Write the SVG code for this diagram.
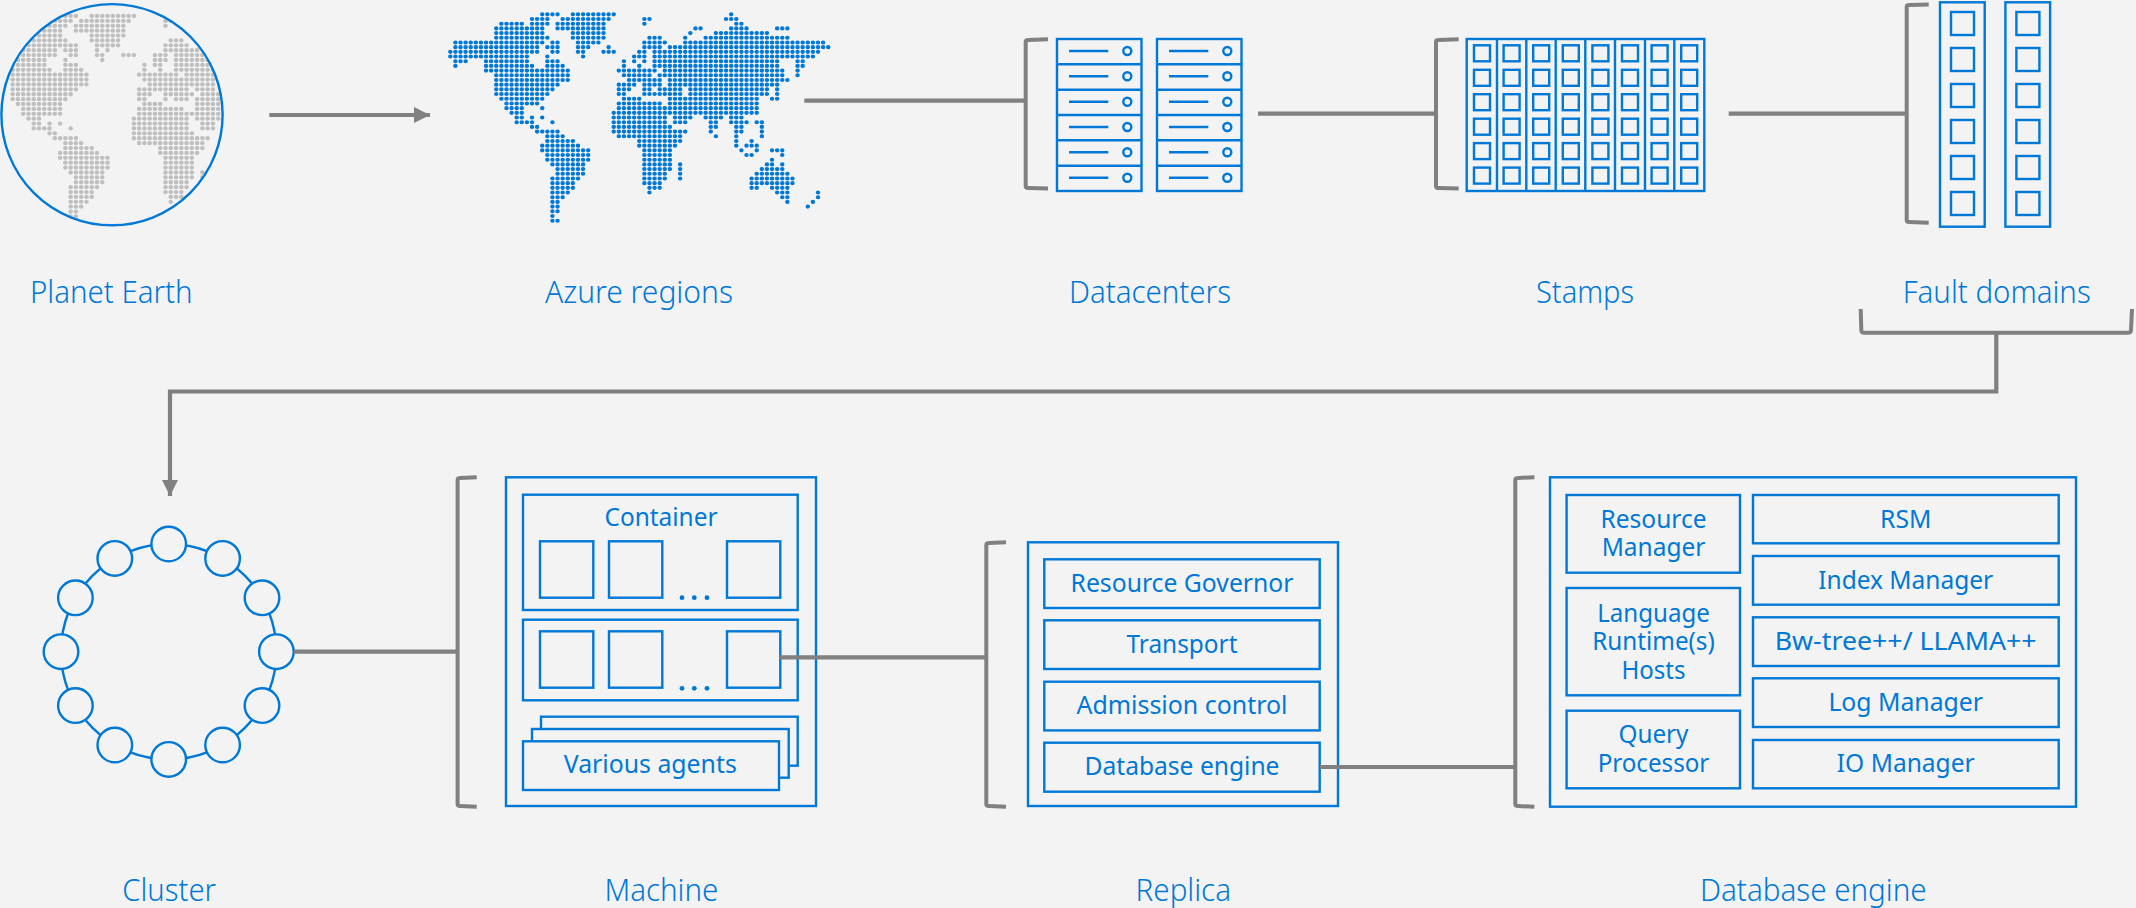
<svg xmlns="http://www.w3.org/2000/svg" xmlns:xlink="http://www.w3.org/1999/xlink" width="2136" height="908" viewBox="0 0 2136 908">
<style>
.b{fill:none;stroke:#0078d7;stroke-width:2.4}
.bf{fill:#f3f3f3;stroke:#0078d7;stroke-width:2.4}
.g{fill:none;stroke:#808080;stroke-width:4.2}
.br{fill:none;stroke:#808080;stroke-width:4;stroke-linejoin:round}
.d{fill:none;stroke-linecap:round;stroke-dasharray:0 1;stroke-width:.88}
text{font-family:"Noto Sans","Open Sans",sans-serif;font-weight:300;fill:#0078d7;text-anchor:middle}
.l{font-size:31px}
.t{font-size:24.5px;font-weight:400}
</style>
<defs>
<marker id="ah" markerUnits="userSpaceOnUse" markerWidth="16" markerHeight="16" refX="16" refY="8" orient="auto"><path d="M0 0L16 8L0 16Z" fill="#808080"/></marker>
<clipPath id="gc"><circle cx="112" cy="114.7" r="110"/></clipPath>
<g id="srv"><path class="b" d="M1069 51H1108.3"/><circle class="b" cx="1127.3" cy="51" r="4"/></g>
<g id="rack"><rect class="b" x="1057" y="39" width="84.5" height="152"/><path class="b" d="M1057 64.3H1141.5M1057 89.7H1141.5M1057 115H1141.5M1057 140.3H1141.5M1057 165.7H1141.5"/>
<use href="#srv"/><use href="#srv" y="25.3"/><use href="#srv" y="50.7"/><use href="#srv" y="76"/><use href="#srv" y="101.3"/><use href="#srv" y="126.7"/></g>
<g id="scol"><rect class="b" x="1474" y="45.3" width="16" height="16"/><rect class="b" x="1474" y="69.8" width="16" height="16"/><rect class="b" x="1474" y="94.2" width="16" height="16"/><rect class="b" x="1474" y="118.7" width="16" height="16"/><rect class="b" x="1474" y="143.1" width="16" height="16"/><rect class="b" x="1474" y="167.6" width="16" height="16"/></g>
<g id="fcol"><rect class="b" x="1940" y="2.3" width="44.7" height="224.4"/><rect class="b" x="1951" y="12" width="23" height="23"/><rect class="b" x="1951" y="48" width="23" height="23"/><rect class="b" x="1951" y="84" width="23" height="23"/><rect class="b" x="1951" y="120" width="23" height="23"/><rect class="b" x="1951" y="156" width="23" height="23"/><rect class="b" x="1951" y="192" width="23" height="23"/></g>
</defs>
<rect width="2136" height="908" fill="#f3f3f3"/>

<g id="planet-earth">
<g clip-path="url(#gc)"><path class="d" stroke="#bfbfbf" transform="translate(12.67 16) scale(5.27 4.89)" d="M10 0H12.01M15 0H23.01M7 1H11.01M13 1H22.01M29 1H30.01M6 2H10.01M12 2H21.01M29 2H29.01M5 3H9.01M12 3H21.01M4 4H9.01M15 4H21.01M3 5H10.01M15 5H20.01M30 5H32.01M2 6H9.01M10 6H12.01M16 6H20.01M29 6H33.01M2 7H8.01M10 7H12.01M16 7H16.01M18 7H18.01M29 7H35.01M1 8H8.01M11 8H12.01M16 8H17.01M21 8H23.01M27 8H29.01M31 8H36.01M1 9H6.01M10 9H10.01M17 9H17.01M27 9H29.01M31 9H37.01M0 10H6.01M10 10H12.01M25 10H25.01M27 10H28.01M31 10H37.01M0 11H7.01M10 11H13.01M25 11H25.01M28 11H28.01M31 11H38.01M0 12H14.01M24 12H31.01M33 12H38.01M0 13H14.01M25 13H38.01M0 14H14.01M26 14H38.01M0 15H12.01M24 15H25.01M26 15H33.01M35 15H38.01M0 16H11.01M24 16H26.01M29 16H34.01M36 16H39.01M0 17H10.01M24 17H25.01M29 17H29.01M31 17H33.01M35 17H39.01M1 18H9.01M25 18H28.01M35 18H39.01M2 19H9.01M24 19H28.01M29 19H32.01M35 19H39.01M2 20H9.01M24 20H39.01M3 21H5.01M23 21H33.01M35 21H39.01M4 22H5.01M7 22H7.01M9 22H9.01M23 22H33.01M36 22H38.01M4 23H6.01M7 23H7.01M11 23H11.01M23 23H33.01M36 23H38.01M7 24H8.01M23 24H34.01M8 25H12.01M23 25H37.01M10 26H13.01M24 26H36.01M10 27H15.01M28 27H36.01M9 28H16.01M28 28H35.01M9 29H18.01M29 29H34.01M10 30H18.01M29 30H34.01M10 31H18.01M29 31H34.01M11 32H17.01M29 32H34.01M36 32H36.01M12 33H17.01M29 33H34.01M36 33H36.01M12 34H17.01M29 34H33.01M11 35H16.01M29 35H33.01M11 36H15.01M29 36H32.01M11 37H15.01M30 37H32.01M11 38H14.01M30 38H30.01M11 39H13.01M11 40H12.01M11 41H12.01M11 42H12.01"/></g>
<circle class="b" cx="112" cy="114.7" r="110.6" stroke-width="2.2"/>
<text class="l" x="111.3" y="302.7" textLength="162.7" lengthAdjust="spacingAndGlyphs">Planet Earth</text>
</g>

<g id="azure-regions">
<path class="d" stroke="#0078d7" transform="translate(450.3 14.33) scale(5.107 4.69)" d="M18 0H21.01M24 0H32.01M55 0H55.01M16 1H19.01M22 1H23.01M24 1H31.01M38 1H39.01M54 1H56.01M10 2H14.01M16 2H19.01M21 2H30.01M38 2H38.01M56 2H57.01M9 3H18.01M21 3H23.01M24 3H30.01M48 3H49.01M55 3H58.01M64 3H66.01M9 4H18.01M24 4H30.01M47 4H47.01M52 4H62.01M9 5H19.01M24 5H30.01M39 5H41.01M46 5H46.01M50 5H66.01M1 6H18.01M20 6H21.01M25 6H29.01M38 6H42.01M46 6H73.01M1 7H17.01M19 7H19.01M20 7H21.01M25 7H27.01M31 7H31.01M38 7H41.01M43 7H74.01M0 8H17.01M20 8H21.01M25 8H26.01M30 8H32.01M37 8H38.01M40 8H72.01M0 9H15.01M19 9H19.01M26 9H26.01M36 9H38.01M40 9H71.01M1 10H3.01M7 10H15.01M19 10H21.01M34 10H34.01M36 10H36.01M38 10H38.01M40 10H64.01M68 10H69.01M1 11H1.01M7 11H16.01M19 11H22.01M34 11H34.01M37 11H37.01M40 11H64.01M68 11H69.01M7 12H23.01M33 12H40.01M42 12H65.01M68 12H68.01M9 13H23.01M34 13H39.01M41 13H65.01M68 13H68.01M9 14H23.01M35 14H41.01M43 14H66.01M9 15H21.01M33 15H36.01M38 15H41.01M43 15H64.01M9 16H20.01M33 16H35.01M38 16H39.01M41 16H45.01M47 16H62.01M64 16H64.01M9 17H19.01M33 17H34.01M38 17H42.01M43 17H45.01M47 17H62.01M64 17H64.01M10 18H18.01M34 18H37.01M43 18H60.01M63 18H64.01M11 19H17.01M33 19H41.01M43 19H60.01M11 20H14.01M18 20H18.01M33 20H42.01M43 20H60.01M12 21H14.01M32 21H42.01M43 21H60.01M13 22H14.01M16 22H16.01M18 22H18.01M32 22H42.01M44 22H47.01M50 22H53.01M55 22H57.01M13 23H16.01M20 23H20.01M32 23H42.01M44 23H46.01M51 23H52.01M55 23H58.01M60 23H61.01M16 24H17.01M32 24H43.01M51 24H52.01M56 24H57.01M61 24H61.01M17 25H21.01M32 25H46.01M51 25H51.01M56 25H57.01M61 25H61.01M19 26H22.01M33 26H45.01M52 26H52.01M56 26H56.01M61 26H61.01M19 27H24.01M37 27H45.01M56 27H56.01M59 27H59.01M18 28H25.01M37 28H44.01M56 28H56.01M58 28H60.01M18 29H27.01M38 29H43.01M57 29H57.01M60 29H60.01M63 29H65.01M19 30H27.01M38 30H43.01M58 30H59.01M65 30H65.01M19 31H27.01M38 31H43.01M63 31H63.01M20 32H26.01M38 32H43.01M45 32H45.01M62 32H63.01M65 32H65.01M21 33H26.01M38 33H43.01M45 33H45.01M61 33H65.01M21 34H26.01M38 34H42.01M45 34H45.01M60 34H66.01M20 35H25.01M38 35H42.01M45 35H45.01M59 35H67.01M20 36H24.01M38 36H41.01M59 36H67.01M20 37H24.01M39 37H41.01M59 37H60.01M63 37H66.01M20 38H23.01M39 38H39.01M64 38H66.01M72 38H72.01M20 39H22.01M65 39H66.01M72 39H72.01M20 40H21.01M66 40H66.01M71 40H71.01M20 41H21.01M70 41H70.01M20 42H21.01M20 43H20.01M20 44H21.01"/>
<text class="l" x="639" y="302.7" textLength="188" lengthAdjust="spacingAndGlyphs">Azure regions</text>
</g>

<g id="datacenters">
<use href="#rack"/><use href="#rack" x="100"/>
<text class="l" x="1150" y="302.7" textLength="162" lengthAdjust="spacingAndGlyphs">Datacenters</text>
</g>

<g id="stamps">
<rect class="b" x="1466.7" y="39" width="237.6" height="152"/>
<path class="b" d="M1497 39V191M1526.3 39V191M1555.7 39V191M1585.3 39V191M1615 39V191M1645 39V191M1674.3 39V191"/>
<use href="#scol"/><use href="#scol" x="29.6"/><use href="#scol" x="59.2"/><use href="#scol" x="88.8"/><use href="#scol" x="118.4"/><use href="#scol" x="148"/><use href="#scol" x="177.6"/><use href="#scol" x="207.2"/>
<text class="l" x="1585" y="302.7" textLength="98" lengthAdjust="spacingAndGlyphs">Stamps</text>
</g>

<g id="fault-domains">
<use href="#fcol"/><use href="#fcol" x="65.4"/>
<text class="l" x="1996.7" y="302.7" textLength="188" lengthAdjust="spacingAndGlyphs">Fault domains</text>
</g>

<g id="cluster">
<circle class="b" cx="168.7" cy="651.7" r="107.7"/>
<circle class="bf" cx="168.7" cy="544" r="17.3"/><circle class="bf" cx="222.6" cy="558.4" r="17.3"/><circle class="bf" cx="262" cy="597.8" r="17.3"/><circle class="bf" cx="276.4" cy="651.7" r="17.3"/><circle class="bf" cx="262" cy="705.6" r="17.3"/><circle class="bf" cx="222.6" cy="745" r="17.3"/><circle class="bf" cx="168.7" cy="759.4" r="17.3"/><circle class="bf" cx="114.8" cy="745" r="17.3"/><circle class="bf" cx="75.4" cy="705.6" r="17.3"/><circle class="bf" cx="61" cy="651.7" r="17.3"/><circle class="bf" cx="75.4" cy="597.8" r="17.3"/><circle class="bf" cx="114.8" cy="558.4" r="17.3"/>
<text class="l" x="169.2" y="901.3" textLength="93.7" lengthAdjust="spacingAndGlyphs">Cluster</text>
</g>

<g id="machine">
<rect class="b" x="506" y="477.3" width="310" height="328.7"/>
<rect class="b" x="523" y="494.7" width="274.7" height="115.3"/>
<rect class="b" x="540" y="541.3" width="53.3" height="56.4"/><rect class="b" x="609" y="541.3" width="53.3" height="56.4"/><rect class="b" x="727" y="541.3" width="53.3" height="56.4"/>
<circle cx="682" cy="597.7" r="2.4" fill="#0078d7"/><circle cx="694.3" cy="597.7" r="2.4" fill="#0078d7"/><circle cx="707" cy="597.7" r="2.4" fill="#0078d7"/>
<text class="t" x="661" y="525.7" textLength="113" lengthAdjust="spacingAndGlyphs">Container</text>
<rect class="b" x="523" y="619.7" width="274.7" height="80.6"/>
<rect class="b" x="540" y="631.3" width="53.3" height="56.4"/><rect class="b" x="609" y="631.3" width="53.3" height="56.4"/><rect class="b" x="727" y="631.3" width="53.3" height="56.4"/>
<circle cx="682" cy="688.3" r="2.4" fill="#0078d7"/><circle cx="694.3" cy="688.3" r="2.4" fill="#0078d7"/><circle cx="707" cy="688.3" r="2.4" fill="#0078d7"/>
<rect class="bf" x="541" y="716.7" width="256.7" height="49"/>
<rect class="bf" x="532" y="729" width="256.7" height="48.7"/>
<rect class="bf" x="523" y="741.3" width="256" height="48.7"/>
<text class="t" x="650.3" y="773.3" textLength="173" lengthAdjust="spacingAndGlyphs">Various agents</text>
<text class="l" x="661.4" y="901.3" textLength="113.8" lengthAdjust="spacingAndGlyphs">Machine</text>
</g>

<g id="replica">
<rect class="b" x="1028" y="542.3" width="310" height="263.7"/>
<rect class="b" x="1044.3" y="559.3" width="275.4" height="48.7"/>
<rect class="b" x="1044.3" y="620.3" width="275.4" height="48.7"/>
<rect class="b" x="1044.3" y="681.7" width="275.4" height="48.7"/>
<rect class="b" x="1044.3" y="742.7" width="275.4" height="49"/>
<text class="t" x="1182" y="591.7" textLength="223" lengthAdjust="spacingAndGlyphs">Resource Governor</text>
<text class="t" x="1182" y="652.7" textLength="111" lengthAdjust="spacingAndGlyphs">Transport</text>
<text class="t" x="1182" y="714" textLength="211" lengthAdjust="spacingAndGlyphs">Admission control</text>
<text class="t" x="1182" y="775" textLength="195" lengthAdjust="spacingAndGlyphs">Database engine</text>
<text class="l" x="1183.3" y="901.3" textLength="95.4" lengthAdjust="spacingAndGlyphs">Replica</text>
</g>

<g id="database-engine">
<rect class="b" x="1550" y="477.3" width="526" height="329.4"/>
<rect class="b" x="1566.6" y="495" width="173.4" height="77.7"/>
<rect class="b" x="1566.6" y="588" width="173.4" height="107.3"/>
<rect class="b" x="1566.6" y="710.7" width="173.4" height="77.6"/>
<rect class="b" x="1753" y="495" width="305.7" height="48.3"/>
<rect class="b" x="1753" y="556" width="305.7" height="48.7"/>
<rect class="b" x="1753" y="617.3" width="305.7" height="48.7"/>
<rect class="b" x="1753" y="678.3" width="305.7" height="48.7"/>
<rect class="b" x="1753" y="740" width="305.7" height="48.3"/>
<text class="t"><tspan x="1653.5" y="528.3" textLength="106" lengthAdjust="spacingAndGlyphs">Resource</tspan><tspan x="1653.5" y="556" textLength="103.7" lengthAdjust="spacingAndGlyphs">Manager</tspan></text>
<text class="t"><tspan x="1653.5" y="621.7" textLength="112.5" lengthAdjust="spacingAndGlyphs">Language</tspan><tspan x="1653.5" y="650" textLength="122.5" lengthAdjust="spacingAndGlyphs">Runtime(s)</tspan><tspan x="1653.5" y="679" textLength="64" lengthAdjust="spacingAndGlyphs">Hosts</tspan></text>
<text class="t"><tspan x="1653.5" y="743.3" textLength="70" lengthAdjust="spacingAndGlyphs">Query</tspan><tspan x="1653.5" y="772" textLength="111.7" lengthAdjust="spacingAndGlyphs">Processor</tspan></text>
<text class="t" x="1905.7" y="528.3" textLength="51.3" lengthAdjust="spacingAndGlyphs">RSM</text>
<text class="t" x="1905.7" y="589.3" textLength="175" lengthAdjust="spacingAndGlyphs">Index Manager</text>
<text class="t" x="1905.7" y="650" textLength="262" lengthAdjust="spacingAndGlyphs">Bw-tree++/ LLAMA++</text>
<text class="t" x="1905.7" y="711.3" textLength="154.6" lengthAdjust="spacingAndGlyphs">Log Manager</text>
<text class="t" x="1905.7" y="772" textLength="137.8" lengthAdjust="spacingAndGlyphs">IO Manager</text>
<text class="l" x="1813.3" y="901.3" textLength="226.6" lengthAdjust="spacingAndGlyphs">Database engine</text>
</g>

<g id="connectors">
<path class="g" d="M269.3 115H430" marker-end="url(#ah)"/>
<path class="g" d="M804.3 100.7H1025.7"/>
<path class="br" d="M1048 39.3L1028 40Q1025.7 40 1025.7 42V186Q1025.7 188 1028 188L1048 188.6"/>
<path class="g" d="M1258 113.7H1436"/>
<path class="br" d="M1458.7 39.3L1438 40Q1436 40 1436 42V186Q1436 188 1438 188L1458.7 188.6"/>
<path class="g" d="M1728.7 113.7H1906.7"/>
<path class="br" d="M1928.7 4.4L1909 5Q1906.7 5 1906.7 7V220Q1906.7 222 1909 222L1928.7 222.8"/>
<path class="br" d="M1860.7 309L1861.3 330Q1861.3 332.7 1864 332.7H2128Q2131 332.7 2131 330L2132 309"/>
<path class="g" d="M1996.3 332.7V391.5H170V496" marker-end="url(#ah)"/>
<path class="g" d="M294 651.7H457.3"/>
<path class="br" d="M476.7 477.2L460 478Q457.6 478 457.6 480V804Q457.6 806 460 806L476.7 806.8"/>
<path class="g" d="M780 657.3H986"/>
<path class="br" d="M1006 542.2L989 543Q986.3 543 986.3 545V804Q986.3 806 989 806L1006 806.8"/>
<path class="g" d="M1320 767H1515.3"/>
<path class="br" d="M1534.4 477.2L1518 478Q1515.3 478 1515.3 480V804Q1515.3 806 1518 806L1534.4 806.8"/>
</g>
</svg>
